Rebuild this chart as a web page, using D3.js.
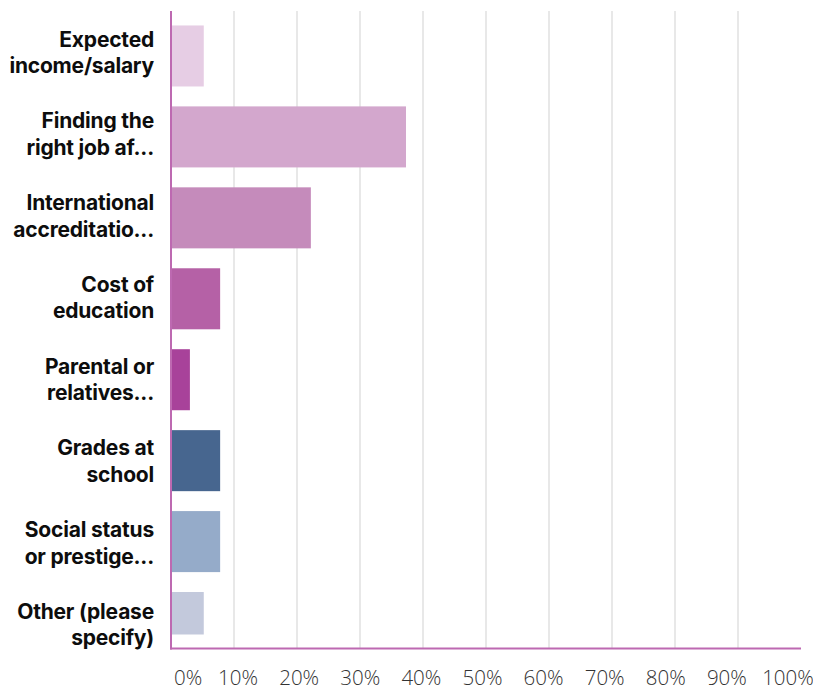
<!DOCTYPE html>
<html>
<head>
<meta charset="utf-8">
<script src="https://cdn.jsdelivr.net/npm/d3@7"></script>
<style>
  html, body { margin: 0; padding: 0; background: #fff; }
  svg { display: block; }
</style>
</head>
<body>
<svg id="chart" width="813" height="691"></svg>
<script>
// Survey answers: share of respondents per factor (%)
const categories = [
  ["Expected", "income/salary"],
  ["Finding the", "right job af..."],
  ["International", "accreditatio..."],
  ["Cost of", "education"],
  ["Parental or", "relatives..."],
  ["Grades at", "school"],
  ["Social status", "or prestige..."],
  ["Other (please", "specify)"]
];
const values = [5.2, 37.3, 22.2, 7.8, 3.0, 7.8, 7.8, 5.2];
const barColors = ["#e6cde4", "#d3a7cd", "#c58bbb", "#b561a6", "#a8429a", "#47668f", "#95abc9", "#c3c9dc"];
const tickValues = [0, 10, 20, 30, 40, 50, 60, 70, 80, 90, 100];
const tickLabels = tickValues.map(v => v + "%");

const keys = categories.map((c, i) => "c" + i);

const svg = d3.select("#chart");

const plot = { left: 171, right: 801, top: 11, bottom: 648.5 };

const x = d3.scaleLinear().domain([0, 100]).range([plot.left, plot.right]);

// bar rows
const y = d3.scaleBand()
  .domain(keys)
  .range([15.5, 663])
  .paddingInner(0.246)
  .paddingOuter(0.123);

// category label rows
const yLabel = d3.scalePoint()
  .domain(keys)
  .range([60, 632]);

// positions of the percentage labels under the axis
const xTickLabel = d3.scaleLinear().domain([0, 100]).range([177, 788]);

// vertical gridlines
svg.append("g")
  .selectAll("line")
  .data(tickValues.slice(1, -1))
  .join("line")
  .attr("x1", d => x(d)).attr("x2", d => x(d))
  .attr("y1", plot.top).attr("y2", plot.bottom)
  .attr("stroke", "#e8e8e8")
  .attr("stroke-width", 2);

// bars, clipped to the plotting band
svg.append("defs").append("clipPath").attr("id", "plotClip")
  .append("rect")
  .attr("x", 0).attr("y", plot.top)
  .attr("width", 813).attr("height", 634.5 - plot.top);

svg.append("g")
  .attr("clip-path", "url(#plotClip)")
  .selectAll("rect")
  .data(values)
  .join("rect")
  .attr("x", x(0))
  .attr("y", (d, i) => y(keys[i]))
  .attr("width", d => x(d) - x(0))
  .attr("height", y.bandwidth())
  .attr("fill", (d, i) => barColors[i]);

// axis lines
svg.append("line")
  .attr("x1", x(0)).attr("x2", x(0))
  .attr("y1", plot.top).attr("y2", plot.bottom + 1)
  .attr("stroke", "#bd69b1").attr("stroke-width", 2);
svg.append("line")
  .attr("x1", x(0) - 1).attr("x2", x(100))
  .attr("y1", plot.bottom).attr("y2", plot.bottom)
  .attr("stroke", "#bd69b1").attr("stroke-width", 2);

// category labels (two lines, right aligned)
const lineGap = 26.7;
const labels = svg.append("g")
  .attr("font-family", "Inter, 'Open Sans', sans-serif")
  .attr("font-weight", 700)
  .attr("font-size", 21)
  .attr("letter-spacing", -0.2)
  .attr("fill", "#0d0d0d")
  .attr("text-anchor", "end");
categories.forEach((lines, i) => {
  const mid = yLabel(keys[i]);
  lines.forEach((t, j) => {
    labels.append("text")
      .attr("x", 154)
      .attr("y", mid + (j - 0.5) * lineGap)
      .text(t);
  });
});

// percentage labels
const tl = svg.append("g")
  .attr("font-family", "'Open Sans', sans-serif")
  .attr("font-weight", 300)
  .attr("font-size", 20.5)
  .attr("fill", "#333")
  .attr("text-anchor", "middle");
tickValues.forEach((v, i) => {
  const t = tl.append("text")
    .attr("x", xTickLabel(v))
    .attr("y", 685)
    .text(tickLabels[i]);
  const w = t.node().getComputedTextLength();
  const minCenter = 174 + w / 2;
  if (xTickLabel(v) < minCenter) t.attr("x", minCenter);
});
</script>
</body>
</html>
